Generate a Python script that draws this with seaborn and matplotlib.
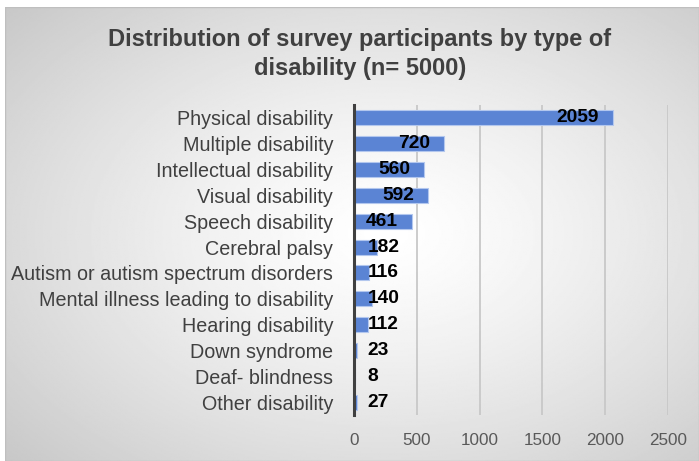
import numpy as np
import pandas as pd
import matplotlib
matplotlib.use('Agg')
import matplotlib.pyplot as plt
import seaborn as sns

# data
categories = ["Physical disability", "Multiple disability", "Intellectual disability",
              "Visual disability", "Speech disability", "Cerebral palsy",
              "Autism or autism spectrum disorders", "Mental illness leading to disability",
              "Hearing disability", "Down syndrome", "Deaf- blindness", "Other disability"]
counts = [2059, 720, 560, 592, 461, 182, 116, 140, 112, 23, 8, 27]
x_ticks = [0, 500, 1000, 1500, 2000, 2500]

df = pd.DataFrame({"Type": categories, "Count": counts})

sns.set_theme(style="white")
plt.rcParams['font.family'] = ['Liberation Sans', 'DejaVu Sans']

fig = plt.figure(figsize=(6.99, 4.61), dpi=100)
fig.patch.set_facecolor("white")

# radial gradient background panel
bg = fig.add_axes([5 / 699, 0, 694 / 699, 454 / 461])
yy, xx = np.mgrid[0:1:300j, 0:1:450j]
r = np.sqrt(((xx - 0.55) / 0.75) ** 2 + ((yy - 0.5) / 0.75) ** 2)
shade = 1 - 0.22 * np.clip(r, 0, 1) ** 1.3
bg.imshow(shade, cmap="gray", vmin=0, vmax=1, aspect="auto", extent=[0, 1, 0, 1])
bg.set_axis_off()
bg.add_patch(plt.Rectangle((0, 0), 1, 1, fill=False, edgecolor="#bfbfbf", lw=1,
                           transform=bg.transAxes))

ax = fig.add_axes([354 / 699, 1 - 415 / 461, 314 / 699, 310 / 461])
ax.patch.set_alpha(0)
sns.barplot(data=df, x="Count", y="Type", orient="h", color="#5b84d4", saturation=1,
            width=0.58, edgecolor="#b3c7ee", linewidth=0.8, ax=ax)

ax.set_xlim(0, 2500)
ax.set_xticks(x_ticks)
ax.set_xticklabels([str(t) for t in x_ticks])
ax.grid(axis="x", color="#c8c8c8", lw=1.3)
ax.set_axisbelow(True)
for s in ["top", "right", "bottom"]:
    ax.spines[s].set_visible(False)
ax.spines["left"].set_color("#404040")
ax.spines["left"].set_linewidth(2.2)
ax.spines["left"].set_zorder(5)
ax.tick_params(axis="x", length=0, pad=13, labelsize=12.3, labelcolor="#595959")
ax.tick_params(axis="y", length=0, pad=15, labelsize=14.2, labelcolor="#404040")
ax.set_xlabel("")
ax.set_ylabel("")

for i, v in enumerate(counts):
    if v > 300:
        ax.text(v - 110, i, str(v), ha="right", va="center", fontsize=13.8,
                fontweight="bold", color="black")
    else:
        ax.text(110, i, str(v), ha="left", va="center", fontsize=13.8,
                fontweight="bold", color="black")

fig.text(360 / 699, 1 - 54 / 461,
         "Distribution of survey participants by type of\ndisability (n= 5000)",
         ha="center", va="center", fontsize=17, fontweight="bold", color="#404040",
         linespacing=1.28)

fig.savefig("out.png", dpi=100)
